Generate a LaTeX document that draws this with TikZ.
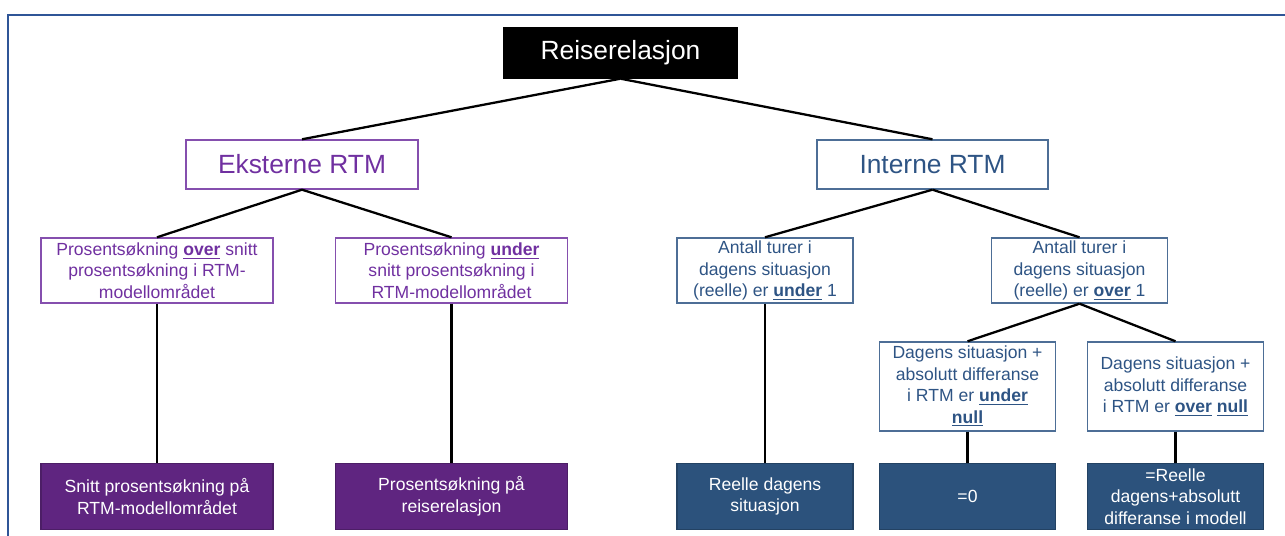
\documentclass[tikz,border=0pt]{standalone}
\usepackage{fontspec}
\setmainfont{Liberation Sans}
\definecolor{EkstPurple}{RGB}{112, 48, 160}
\definecolor{EkstFill}{RGB}{95, 37, 128}
\definecolor{IntBlue}{RGB}{46, 84, 132}
\definecolor{IntFill}{RGB}{44, 82, 124}
\definecolor{FrameBlue}{RGB}{47, 85, 151}
\usepackage{xcolor}
\usepackage{tikz}
\usetikzlibrary{positioning}

\begin{document}
\begin{tikzpicture}[
    node distance=0.6cm,
    big/.style={draw, line width=0.8pt, inner sep=0pt, minimum width=4.64cm, minimum height=0.98cm, font=\fontsize{15}{18}\selectfont},
    small/.style={draw, line width=0.8pt, inner sep=0pt, align=center, font=\fontsize{10}{12.2}\selectfont},
    wide/.style={small, minimum width=4.64cm},
    narrow/.style={small, minimum width=3.52cm},
    ekst/.style={draw=EkstPurple!85, text=EkstPurple},
    int/.style={draw=IntBlue!85, text=IntBlue},
    ekstres/.style={draw=EkstFill!80!black, fill=EkstFill, text=white, minimum height=1.32cm},
    intres/.style={draw=IntFill!80!black, fill=IntFill, text=white, minimum height=1.32cm},
    line/.style={line width=1.3pt}
]
    \useasboundingbox (0,0) rectangle (25.7,-10.72);
    \draw[FrameBlue, line width=1.4pt] (0.16,-11) |- (26,-0.30);

    % top
    \node[big, fill=black, text=white, minimum width=4.66cm, minimum height=1.0cm] (rel) at (12.41,-1.06) {Reiserelasjon};
    \node[big, ekst] (ekst) at (6.04,-3.29) {Eksterne RTM};
    \node[big, int, minimum width=4.62cm] (int) at (18.65,-3.29) {Interne RTM};

    % eksterne
    \node[wide, ekst, minimum height=1.30cm] (over) at (3.14,-5.41) {Prosentsøkning \underline{\textbf{over}} snitt\\prosentsøkning i RTM-\\modellområdet};
    \node[wide, ekst, minimum height=1.30cm] (under) at (9.03,-5.41) {Prosentsøkning \underline{\textbf{under}}\\snitt prosentsøkning i\\RTM-modellområdet};
    \node[wide, ekstres, below=3.18cm of over] (snitt) {Snitt prosentsøkning på\\RTM-modellområdet};
    \node[wide, ekstres, below=3.18cm of under] (prosent) {Prosentsøkning på\\reiserelasjon};

    % interne
    \node[narrow, int, minimum height=1.30cm] (turund) at (15.30,-5.41) {Antall turer i\\dagens situasjon\\(reelle) er \underline{\textbf{under}} 1};
    \node[narrow, int, minimum height=1.30cm] (turover) at (21.59,-5.41) {Antall turer i\\dagens situasjon\\(reelle) er \underline{\textbf{over}} 1};
    \node[narrow, int, minimum height=1.78cm] (dagund) at (19.35,-7.73) {Dagens situasjon +\\absolutt differanse\\i RTM er \underline{\textbf{under}}\\\underline{\textbf{null}}};
    \node[narrow, int, minimum height=1.78cm] (dagover) at (23.51,-7.73) {Dagens situasjon +\\absolutt differanse\\i RTM er \underline{\textbf{over}} \underline{\textbf{null}}};
    \node[narrow, intres, below=3.18cm of turund] (reelle) {Reelle dagens\\situasjon};
    \node[narrow, intres, below=0.62cm of dagund] (null) {=0};
    \node[narrow, intres, below=0.62cm of dagover] (sum) {=Reelle\\dagens+absolutt\\differanse i modell};

    \draw[line] (rel.south) -- (ekst.north);
    \draw[line] (rel.south) -- (int.north);
    \draw[line] (ekst.south) -- (over.north);
    \draw[line] (ekst.south) -- (under.north);
    \draw[line] (over) -- (snitt);
    \draw[line] (under) -- (prosent);
    \draw[line] (int.south) -- (turund.north);
    \draw[line] (int.south) -- (turover.north);
    \draw[line] (turund) -- (reelle);
    \draw[line] (turover.south) -- (dagund.north);
    \draw[line] (turover.south) -- (dagover.north);
    \draw[line] (dagund) -- (null);
    \draw[line] (dagover) -- (sum);
\end{tikzpicture}
\end{document}
